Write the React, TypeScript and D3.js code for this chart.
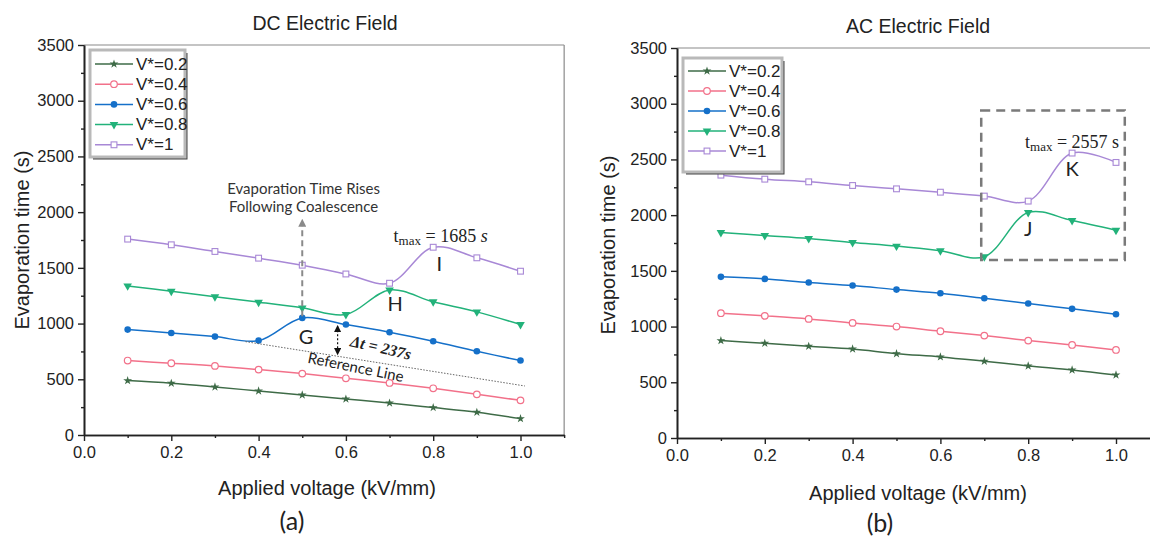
import React, { useEffect, useRef } from 'react';
import * as d3 from 'd3';

// ---------- data ----------
const voltages = [0.1, 0.2, 0.3, 0.4, 0.5, 0.6, 0.7, 0.8, 0.9, 1.0];
const seriesNames = ['V*=0.2', 'V*=0.4', 'V*=0.6', 'V*=0.8', 'V*=1'];

const dcV02 = [488, 464, 431, 395, 359, 323, 287, 246, 204, 147];
const dcV04 = [668, 644, 620, 587, 551, 509, 467, 419, 365, 311];
const dcV06 = [946, 916, 883, 847, 1051, 991, 922, 841, 751, 668];
const dcV08 = [1338, 1290, 1240, 1192, 1141, 1081, 1302, 1195, 1105, 991];
const dcV10 = [1758, 1707, 1647, 1587, 1524, 1445, 1362, 1685, 1590, 1470];

const acV02 = [874, 850, 823, 799, 757, 728, 689, 647, 611, 566];
const acV04 = [1120, 1096, 1069, 1033, 1000, 958, 919, 874, 835, 790];
const acV06 = [1446, 1428, 1395, 1368, 1332, 1299, 1254, 1207, 1159, 1111];
const acV08 = [1844, 1817, 1790, 1754, 1722, 1680, 1626, 2024, 1952, 1865];
const acV10 = [2359, 2323, 2299, 2266, 2236, 2206, 2171, 2126, 2557, 2473];

const xMajorTicks = [0, 0.2, 0.4, 0.6, 0.8, 1.0];
const xMinorTicks = [0.1, 0.3, 0.5, 0.7, 0.9, 1.1];
const yMajorTicks = [0, 500, 1000, 1500, 2000, 2500, 3000, 3500];
const yMinorTicks = [250, 750, 1250, 1750, 2250, 2750, 3250];

// reference line endpoints (DC panel)
const refLineX = [0.37, 1.01];
const refLineY = [838, 440];

const colors = ['#3e6b47', '#f2718a', '#1570c9', '#22b27a', '#a888d6'];
const markerKinds = ['star', 'circleOpen', 'circle', 'triDown', 'squareOpen'];

const AXIS_FONT = '"Liberation Sans", Arial, sans-serif';
const NOTE_FONT = 'Lato, "Open Sans", sans-serif';
const MATH_FONT = '"Liberation Serif", "DejaVu Serif", serif';

function drawMarker(g: any, kind: string, color: string, cx: number, cy: number) {
  if (kind === 'star') {
    g.append('path').attr('d', d3.symbol(d3.symbolStar, 24)()).attr('transform', `translate(${cx},${cy})`).attr('fill', color);
  } else if (kind === 'circleOpen') {
    g.append('circle').attr('cx', cx).attr('cy', cy).attr('r', 3.3).attr('fill', '#fff').attr('stroke', color).attr('stroke-width', 1.2);
  } else if (kind === 'circle') {
    g.append('circle').attr('cx', cx).attr('cy', cy).attr('r', 3.3).attr('fill', color);
  } else if (kind === 'triDown') {
    g.append('path').attr('d', d3.symbol(d3.symbolTriangle, 32)()).attr('transform', `translate(${cx},${cy}) rotate(180)`).attr('fill', color);
  } else {
    g.append('rect').attr('x', cx - 2.9).attr('y', cy - 2.9).attr('width', 5.8).attr('height', 5.8).attr('fill', '#fff').attr('stroke', color).attr('stroke-width', 1.1);
  }
}

interface PanelCfg {
  xPix0: number; xPix1: number; yPix0: number; yPix3500: number;
  title: string; titleX: number; titleY: number;
  yLabelX: number; yLabelY: number;
  xLabelX: number; xLabelY: number;
  tag: string; tagX: number; tagY: number;
  legend: { x: number; y: number; w: number; h: number; row0: number; dy: number };
  series: number[][];
}

function drawPanel(svg: any, cfg: PanelCfg) {
  const unit = cfg.xPix1 - cfg.xPix0;
  const x = d3.scaleLinear().domain([0, 1.1]).range([cfg.xPix0, cfg.xPix0 + 1.1 * unit]);
  const y = d3.scaleLinear().domain([0, 3500]).range([cfg.yPix0, cfg.yPix3500]);
  const g = svg.append('g');

  // frame top/right
  g.append('line').attr('x1', x(0)).attr('x2', x(1.1)).attr('y1', y(3500)).attr('y2', y(3500)).attr('stroke', '#8a8a8a').attr('stroke-width', 1.2);
  g.append('line').attr('x1', x(1.1)).attr('x2', x(1.1)).attr('y1', y(0)).attr('y2', y(3500)).attr('stroke', '#8a8a8a').attr('stroke-width', 1.2);

  // axes
  const xAxis = d3.axisBottom(x).tickValues(xMajorTicks).tickFormat(d3.format('.1f') as any).tickSize(6).tickSizeOuter(0).tickPadding(5);
  const xMinor = d3.axisBottom(x).tickValues(xMinorTicks).tickFormat(() => '').tickSize(3).tickSizeOuter(0);
  const yAxis = d3.axisLeft(y).tickValues(yMajorTicks).tickFormat(d3.format('d') as any).tickSize(6).tickSizeOuter(0).tickPadding(4);
  const yMinor = d3.axisLeft(y).tickValues(yMinorTicks).tickFormat(() => '').tickSize(3).tickSizeOuter(0);
  const styleAxis = (sel: any) => {
    sel.selectAll('path').attr('stroke', '#222').attr('stroke-width', 1.6);
    sel.selectAll('line').attr('stroke', '#222').attr('stroke-width', 1.4);
    sel.selectAll('text').attr('font-family', AXIS_FONT).attr('font-size', 16.5).attr('fill', '#222');
  };
  g.append('g').attr('transform', `translate(0,${y(0)})`).call(xMinor).call(styleAxis);
  g.append('g').attr('transform', `translate(0,${y(0)})`).call(xAxis).call(styleAxis);
  g.append('g').attr('transform', `translate(${x(0)},0)`).call(yMinor).call(styleAxis);
  g.append('g').attr('transform', `translate(${x(0)},0)`).call(yAxis).call(styleAxis);

  // labels
  g.append('text').attr('x', cfg.titleX).attr('y', cfg.titleY).attr('text-anchor', 'middle').attr('dominant-baseline', 'central')
    .attr('font-family', AXIS_FONT).attr('font-size', 19.5).attr('fill', '#222').text(cfg.title);
  g.append('text').attr('transform', `translate(${cfg.yLabelX},${cfg.yLabelY}) rotate(-90)`).attr('text-anchor', 'middle').attr('dominant-baseline', 'central')
    .attr('font-family', AXIS_FONT).attr('font-size', 20).attr('fill', '#222').text('Evaporation time (s)');
  g.append('text').attr('x', cfg.xLabelX).attr('y', cfg.xLabelY).attr('text-anchor', 'middle').attr('dominant-baseline', 'central')
    .attr('font-family', AXIS_FONT).attr('font-size', 20).attr('fill', '#222').text('Applied voltage (kV/mm)');
  g.append('text').attr('x', cfg.tagX).attr('y', cfg.tagY).attr('text-anchor', 'middle').attr('dominant-baseline', 'central')
    .attr('font-family', NOTE_FONT).attr('font-size', 25).attr('fill', '#222').text(cfg.tag);

  // series
  const line = d3.line<number>().x((_, i) => x(voltages[i])).y((d) => y(d)).curve(d3.curveCatmullRom.alpha(0.5));
  cfg.series.forEach((vals, si) => {
    g.append('path').attr('d', line(vals)).attr('fill', 'none').attr('stroke', colors[si]).attr('stroke-width', 1.5);
  });
  cfg.series.forEach((vals, si) => {
    vals.forEach((v, i) => drawMarker(g, markerKinds[si], colors[si], x(voltages[i]), y(v)));
  });

  // legend
  const L = cfg.legend;
  g.append('polyline').attr('points', `${L.x + 3},${L.y + L.h + 1.5} ${L.x + L.w + 1.5},${L.y + L.h + 1.5} ${L.x + L.w + 1.5},${L.y + 3}`)
    .attr('fill', 'none').attr('stroke', '#444').attr('stroke-width', 2);
  g.append('rect').attr('x', L.x).attr('y', L.y).attr('width', L.w).attr('height', L.h).attr('fill', '#fff').attr('stroke', '#b9b9b9').attr('stroke-width', 3);
  seriesNames.forEach((name, si) => {
    const ry = L.row0 + si * L.dy;
    g.append('line').attr('x1', L.x + 5).attr('x2', L.x + 43).attr('y1', ry).attr('y2', ry).attr('stroke', colors[si]).attr('stroke-width', 1.5);
    drawMarker(g, markerKinds[si], colors[si], L.x + 24, ry);
    g.append('text').attr('x', L.x + 46).attr('y', ry).attr('dominant-baseline', 'central')
      .attr('font-family', AXIS_FONT).attr('font-size', 17).attr('fill', '#222').text(name);
  });

  return { x, y, g };
}

function tmaxText(g: any, cx: number, cy: number, value: string, italicS: boolean) {
  const t = g.append('text').attr('x', cx).attr('y', cy).attr('text-anchor', 'middle').attr('dominant-baseline', 'central')
    .attr('font-family', MATH_FONT).attr('font-size', 18).attr('fill', '#222');
  t.append('tspan').text('t');
  t.append('tspan').attr('font-size', 13).attr('dy', 4).text('max');
  t.append('tspan').attr('dy', -4).text(` = ${value} `);
  t.append('tspan').attr('font-style', italicS ? 'italic' : 'normal').text('s');
}

export default function App() {
  const ref = useRef<SVGSVGElement>(null);
  useEffect(() => {
    const svg = d3.select(ref.current);
    svg.selectAll('*').remove();

    const defs = svg.append('defs');
    defs.append('marker').attr('id', 'ahGray').attr('viewBox', '0 0 10 10').attr('refX', 5).attr('refY', 5)
      .attr('markerWidth', 4).attr('markerHeight', 4).attr('orient', 'auto-start-reverse')
      .append('path').attr('d', 'M0,0 L10,5 L0,10 z').attr('fill', '#8a8a8a');
    defs.append('marker').attr('id', 'ahBlack').attr('viewBox', '0 0 10 10').attr('refX', 8).attr('refY', 5)
      .attr('markerWidth', 6).attr('markerHeight', 6).attr('orient', 'auto-start-reverse')
      .append('path').attr('d', 'M0,0 L10,5 L0,10 z').attr('fill', '#111');

    // ----- DC panel -----
    const dc = drawPanel(svg, {
      xPix0: 84, xPix1: 520.5, yPix0: 435, yPix3500: 45,
      title: 'DC Electric Field', titleX: 325, titleY: 23,
      yLabelX: 22, yLabelY: 240, xLabelX: 327, xLabelY: 488,
      tag: '(a)', tagX: 292, tagY: 520,
      legend: { x: 90, y: 50, w: 95, h: 107, row0: 64, dy: 20.2 },
      series: [dcV02, dcV04, dcV06, dcV08, dcV10],
    });
    {
      const { x, y, g } = dc;
      // reference line
      g.append('line').attr('x1', x(refLineX[0])).attr('y1', y(refLineY[0])).attr('x2', x(refLineX[1])).attr('y2', y(refLineY[1]))
        .attr('stroke', '#666').attr('stroke-width', 1).attr('stroke-dasharray', '1.5,1.5');
      // vertical dashed arrow
      g.append('line').attr('x1', x(0.5)).attr('x2', x(0.5)).attr('y1', y(1065)).attr('y2', y(1905))
        .attr('stroke', '#8a8a8a').attr('stroke-width', 2).attr('stroke-dasharray', '6,4').attr('marker-end', 'url(#ahGray)');
      g.append('text').attr('x', x(0.503)).attr('y', y(2221)).attr('text-anchor', 'middle').attr('dominant-baseline', 'central')
        .attr('font-family', NOTE_FONT).attr('font-size', 15).attr('fill', '#333').text('Evaporation Time Rises');
      g.append('text').attr('x', x(0.503)).attr('y', y(2051)).attr('text-anchor', 'middle').attr('dominant-baseline', 'central')
        .attr('font-family', NOTE_FONT).attr('font-size', 15).attr('fill', '#333').text('Following Coalescence');
      // Δt arrow
      g.append('line').attr('x1', x(0.581)).attr('x2', x(0.581)).attr('y1', y(975)).attr('y2', y(728))
        .attr('stroke', '#111').attr('stroke-width', 1.2).attr('stroke-dasharray', '2,2')
        .attr('marker-start', 'url(#ahBlack)').attr('marker-end', 'url(#ahBlack)');
      g.append('text').attr('transform', `translate(${x(0.68)},${y(785)}) rotate(13)`).attr('text-anchor', 'middle').attr('dominant-baseline', 'central')
        .attr('font-family', MATH_FONT).attr('font-size', 16).attr('font-style', 'italic').attr('font-weight', 'bold').attr('fill', '#222').text('Δt = 237s');
      g.append('text').attr('transform', `translate(${x(0.623)},${y(615)}) rotate(11.5)`).attr('text-anchor', 'middle').attr('dominant-baseline', 'central')
        .attr('font-family', NOTE_FONT).attr('font-size', 15).attr('fill', '#222').text('Reference Line');
      // point labels
      const lab = (t: string, vx: number, vy: number) =>
        g.append('text').attr('x', x(vx)).attr('y', y(vy)).attr('text-anchor', 'middle').attr('dominant-baseline', 'central')
          .attr('font-family', NOTE_FONT).attr('font-size', 20).attr('fill', '#222').text(t);
      lab('G', 0.509, 888);
      lab('H', 0.713, 1185);
      lab('I', 0.814, 1544);
      tmaxText(g, x(0.817), y(1786), '1685', true);
    }

    // ----- AC panel -----
    const ac = drawPanel(svg, {
      xPix0: 677, xPix1: 1116, yPix0: 438, yPix3500: 48,
      title: 'AC Electric Field', titleX: 918, titleY: 26,
      yLabelX: 608, yLabelY: 245, xLabelX: 918, xLabelY: 493,
      tag: '(b)', tagX: 880, tagY: 522,
      legend: { x: 683, y: 58, w: 99, h: 114, row0: 71, dy: 20 },
      series: [acV02, acV04, acV06, acV08, acV10],
    });
    {
      const { x, y, g } = ac;
      g.append('rect').attr('x', x(0.693)).attr('y', y(2940)).attr('width', x(1.02) - x(0.693)).attr('height', y(1597) - y(2940))
        .attr('fill', 'none').attr('stroke', '#7a7a7a').attr('stroke-width', 2.5).attr('stroke-dasharray', '9,6');
      const lab = (t: string, vx: number, vy: number) =>
        g.append('text').attr('x', x(vx)).attr('y', y(vy)).attr('text-anchor', 'middle').attr('dominant-baseline', 'central')
          .attr('font-family', NOTE_FONT).attr('font-size', 20).attr('fill', '#222').text(t);
      lab('K', 0.9, 2425);
      lab('J', 0.8, 1886);
      tmaxText(g, x(0.9), y(2658), '2557', false);
    }
  }, []);

  return (
    <svg ref={ref} width={1150} height={537} style={{ position: 'absolute', left: 0, top: 0, background: '#fff' }} />
  );
}
